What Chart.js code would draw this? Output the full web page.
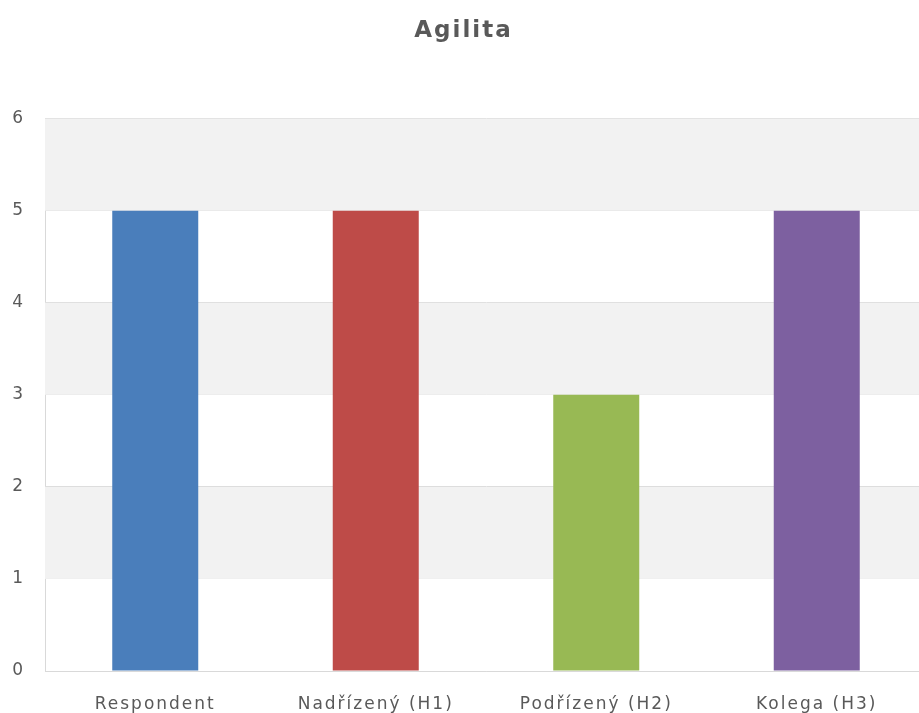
<!DOCTYPE html>
<html>
<head>
<meta charset="utf-8">
<script src="https://cdn.jsdelivr.net/npm/chart.js@4/dist/chart.umd.min.js"></script>
<style>
  html, body { margin: 0; padding: 0; background: #fff; overflow: hidden; }
  #wrap { width: 927px; height: 713px; }
</style>
</head>
<body>
<div id="wrap"><canvas id="agilitaChart" width="927" height="713"></canvas></div>
<script>
// data
const categories = ['Respondent', 'Nadřízený (H1)', 'Podřízený (H2)', 'Kolega (H3)'];
const values = [5, 5, 3, 5];
const barColors = ['#4a7ebb', '#be4b48', '#98b954', '#7d60a0'];
const yTicks = [0, 1, 2, 3, 4, 5, 6];

// gray bands between 1-2, 3-4, 5-6
const bandsPlugin = {
    id: 'bands',
    beforeDatasetsDraw(chart) {
        const { ctx, chartArea, scales } = chart;
        const y = scales.y;
        ctx.save();
        ctx.fillStyle = '#f2f2f2';
        for (let i = 1; i < yTicks.length - 1; i += 2) {
            const top = y.getPixelForValue(yTicks[i + 1]);
            const bottom = y.getPixelForValue(yTicks[i]);
            ctx.fillRect(chartArea.left, top, chartArea.right - chartArea.left, bottom - top);
        }
        ctx.restore();
    }
};

// a bit of letter spacing like the original rendering
const spacingPlugin = {
    id: 'spacing',
    beforeDraw(chart) {
        chart.ctx.letterSpacing = '2px';
    }
};

new Chart(document.getElementById('agilitaChart'), {
    type: 'bar',
    data: {
        labels: categories,
        datasets: [{
            data: values,
            backgroundColor: barColors,
            borderWidth: 0,
            barPercentage: 0.39,
            categoryPercentage: 1
        }]
    },
    options: {
        responsive: false,
        animation: false,
        layout: { padding: 0 },
        plugins: {
            legend: { display: false },
            tooltip: { enabled: false },
            title: {
                display: true,
                text: 'Agilita',
                color: '#595959',
                font: { family: 'DejaVu Sans', size: 23, weight: 'bold' },
                padding: { top: 17, bottom: 74 }
            }
        },
        scales: {
            x: {
                grid: { display: false, drawTicks: false },
                border: { display: true, color: '#d9d9d9', width: 1 },
                ticks: {
                    color: '#595959',
                    padding: 23,
                    maxRotation: 0,
                    font: { family: 'DejaVu Sans', size: 17 }
                },
                afterFit(scale) { scale.height = 42; }
            },
            y: {
                min: 0,
                max: 6,
                grid: { color: '#d9d9d9', drawTicks: false, lineWidth: 1 },
                border: { display: true, color: '#d9d9d9', width: 1 },
                ticks: {
                    stepSize: 1,
                    color: '#595959',
                    padding: 20,
                    font: { family: 'DejaVu Sans', size: 17 }
                },
                afterFit(scale) { scale.width = 45; }
            }
        }
    },
    plugins: [bandsPlugin, spacingPlugin]
});
</script>
</body>
</html>
